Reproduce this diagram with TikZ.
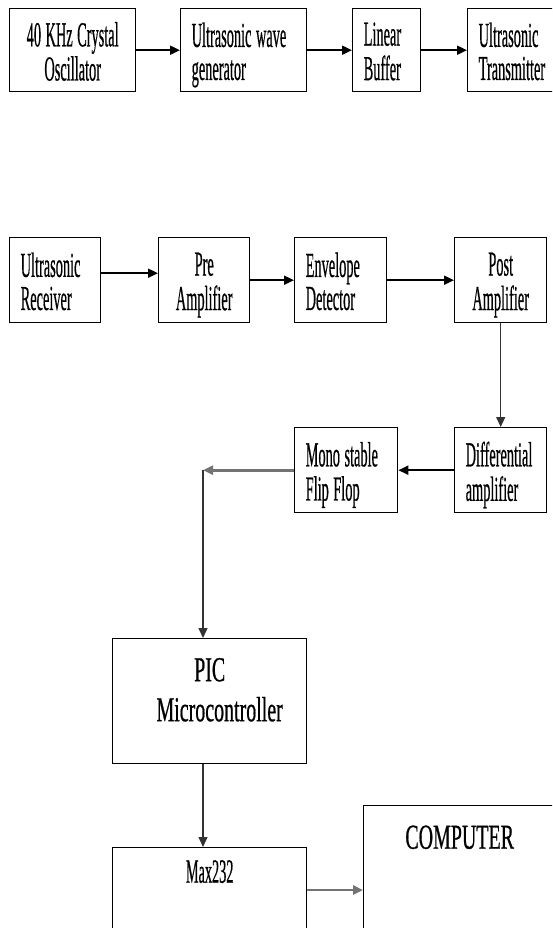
\documentclass[tikz,border=0pt]{standalone}
\usepackage{fontspec}
\usepackage{graphicx}
\setmainfont{Liberation Serif}[FakeBold=0.8]
\usetikzlibrary{arrows.meta}
\newcommand\smtxt[2]{\raisebox{-6pt}[\height][\depth]{\scalebox{0.41}[1]{\fontsize{35}{33}\selectfont\spaceskip=11pt\begin{tabular}{@{}#1@{}}#2\end{tabular}}}}
\newcommand\lgtxt[2]{\raisebox{8pt}[\height][\depth]{\scalebox{0.57}[1]{\fontsize{35}{40}\selectfont\spaceskip=9pt\begin{tabular}{@{}#1@{}}#2\end{tabular}}}}
\begin{document}
\begin{tikzpicture}[x=1pt,y=-1pt,>={Triangle[length=10pt,width=9pt]},
        blk/.style={draw,line width=1.4pt,anchor=north west,inner xsep=11pt,inner ysep=0pt},
        lft/.style={align=left},
        mid/.style={align=center},
        sig/.style={->,line width=1.9pt},
        thn/.style={->,line width=1.3pt,black!80},
        gry/.style={->,line width=2.6pt,black!55}]
        \useasboundingbox (0,0) rectangle (552,928);
        \clip (0,0) rectangle (552,928);
        \node[blk,mid,text width=104pt,minimum height=83pt](osc) at (9,8) {\smtxt{c}{40 KHz Crystal\\Oscillator}};
        \node[blk,lft,text width=104pt,minimum height=83pt](gen) at (180,8) {\smtxt{l}{Ultrasonic wave\\generator}};
        \node[blk,lft,text width=46pt,minimum height=83pt](buf) at (352,8) {\smtxt{l}{Linear\\Buffer}};
        \node[blk,lft,text width=78pt,minimum height=83pt](tx) at (467,8) {\smtxt{l}{Ultrasonic\\Transmitter}};
        \node[blk,lft,text width=69pt,minimum height=85pt](rx) at (9,237) {\smtxt{l}{Ultrasonic\\Receiver}};
        \node[blk,mid,text width=69pt,minimum height=85pt](pre) at (158,237) {\smtxt{c}{Pre\\Amplifier}};
        \node[blk,lft,text width=70pt,minimum height=85pt](env) at (294,237) {\smtxt{l}{Envelope\\Detector}};
        \node[blk,mid,text width=70pt,minimum height=85pt](post) at (454,237) {\smtxt{c}{Post\\Amplifier}};
        \node[blk,lft,text width=70pt,minimum height=85pt](diff) at (454,427) {\smtxt{l}{Differential\\amplifier}};
        \node[blk,lft,text width=81pt,minimum height=85pt](mono) at (294,427) {\smtxt{l}{Mono stable\\Flip Flop}};
        \node[blk,mid,text width=172pt,minimum height=125pt](pic) at (112,638) {\lgtxt{c}{PIC\\\hspace*{35pt}Microcontroller}};
        \node[blk,minimum width=194pt,text height=35pt,text depth=60pt](max) at (112,847) {\scalebox{0.42}[1]{\fontsize{34}{33}\selectfont Max232}};
        \node[blk,minimum width=192pt,text height=43pt,text depth=100pt](comp) at (363,805) {\scalebox{0.57}[1]{\fontsize{35}{40}\selectfont COMPUTER}};
        \draw[sig](osc)--(gen);
        \draw[sig](gen)--(buf);
        \draw[sig](buf)--(tx);
        \draw[sig]([yshift=7pt]rx.east)--([yshift=7pt]pre.west);
        \draw[sig](pre)--(env);
        \draw[sig](env)--(post);
        \draw[thn](post)--(diff);
        \draw[sig](diff)--(mono);
        \draw[gry](mono.west)--++(-91,0)coordinate(bend);
        \draw[thn](bend)--(bend|-pic.north);
        \draw[thn](pic.south-|bend)--(max.north-|bend);
        \draw[gry]([yshift=-43pt]max.north east)coordinate(mx)--(mx-|comp.west);
    \end{tikzpicture}
\end{document}
